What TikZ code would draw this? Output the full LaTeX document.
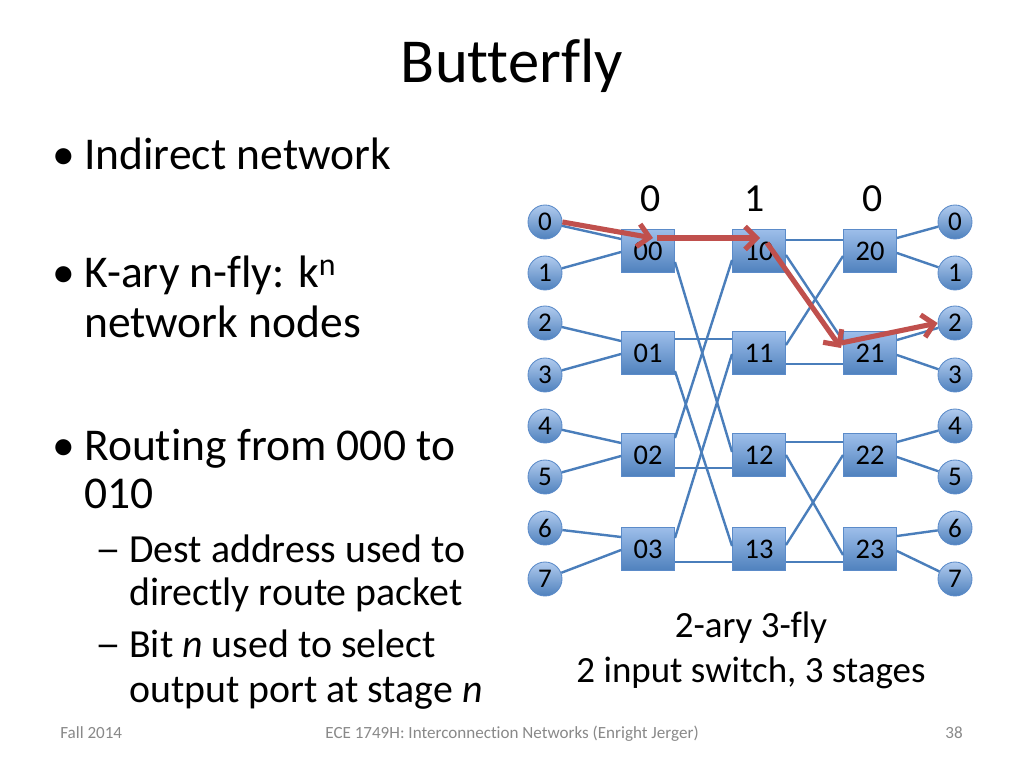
\documentclass[tikz,border=0pt]{standalone}
\usepackage{fontspec}
\setmainfont{Carlito}[Ligatures={NoCommon}]
\usetikzlibrary{arrows.meta,calc}
\definecolor{SwitchTop}{HTML}{9DBEEA}
\definecolor{SwitchBot}{HTML}{4F81BD}
\definecolor{SwitchEdge}{HTML}{5B8BC9}
\definecolor{WireBlue}{HTML}{4A7EBB}
\definecolor{PathRed}{HTML}{C0504D}
\definecolor{FootGray}{HTML}{898989}
\tikzset{>=Stealth,
 switch/.style={draw=SwitchEdge,line width=.6pt,top color=SwitchTop,bottom color=SwitchBot,
  minimum width=37.3pt,minimum height=30.2pt,inner sep=0pt,font=\fontsize{20}{22}\selectfont},
 port/.style={circle,draw=SwitchEdge,line width=.6pt,top color=SwitchTop!80!white,bottom color=SwitchBot,
  minimum size=23.9pt,inner sep=0pt,font=\fontsize{19}{21}\selectfont},
 wire/.style={draw=WireBlue,line width=1.7pt},
 route/.style={draw=PathRed,line width=3.6pt,-{Straight Barb[length=8pt,width=16pt]}},
 bullettext/.style={anchor=base west,inner sep=0pt,font=\fontsize{32}{38}\selectfont},
 subtext/.style={anchor=base west,inner sep=0pt,font=\fontsize{28}{34}\selectfont}}
\begin{document}
\begin{tikzpicture}[x=0.703125pt,y=-0.703125pt]
\useasboundingbox[fill=white] (0,0) rectangle (1024,768);
\node[anchor=base,font=\fontsize{44}{53}\selectfont] (title) at (512,83) {Butterfly};
\foreach \y/\t in {170/Indirect network,288/{K-ary n-fly: k\textsuperscript{n}},338/network nodes,
 460/Routing from 000 to,508/010}
 {\node[bullettext] at (84,\y) {\t};}
\foreach \y in {170,288,460}
 {\node[bullettext] at (52,\y) {•};}
\foreach \y/\t in {562/Dest address used to,605/directly route packet,
 657/{Bit \textit{n} used to select},702/{output port at stage \textit{n}}}
 {\node[subtext] at (129,\y) {\t};}
\foreach \y in {562,657}
 {\node[subtext,xscale=1.3] at (95,\y) {–};}
\foreach \c/\x in {0/648,1/759,2/870}
 \foreach \r/\y in {0/251,1/353,2/455,3/549}
  {\node[switch] (s\c\r) at (\x,\y) {\c\r};}
\foreach \i/\y in {0/222,1/273,2/323,3/375,4/426,5/477,6/528,7/579}
 {\node[port] (in\i) at (545,\y) {\i};
  \node[port] (out\i) at (955,\y) {\i};}
\foreach \x/\b in {651/0,755/1,873/0}
 {\node[anchor=base,font=\fontsize{28}{34}\selectfont] at (\x,212) {\b};}
\foreach \r/\a/\b in {0/0/1,1/2/3,2/4/5,3/6/7}
 {\draw[wire] (in\a) -- ($(s0\r.west)+(0,-12)$);
  \draw[wire] (in\b) -- ($(s0\r.west)+(0,1)$);
  \draw[wire] ($(s2\r.east)+(0,-13)$) -- (out\a);
  \draw[wire] ($(s2\r.east)+(0,2)$) -- (out\b);}
\foreach \a/\b/\p/\q in {00/10/-13/-13,01/11/-14/-14,02/12/13/13,03/13/13/13,
 00/12/11/-3,01/13/18/-3,02/10/-17/9,03/11/-11/1,
 10/20/-11/-11,11/21/11/11,12/22/-13/-13,13/23/13/13,
 10/21/4/-12,11/20/-8/5,12/23/0/6,13/22/-4/0}
 {\draw[wire] ($(s\a.east)+(0,\p)$) -- ($(s\b.west)+(0,\q)$);}
\draw[route] (in0.east) -- ($(s00)+(5,-13)$);
\draw[route] ($(s00)+(9,-13)$) -- ($(s10)+(1,-13)$);
\draw[route] ($(s10)+(8,-8)$) -- ($(s21.west)+(-2,-5)$);
\draw[route] ($(s21.west)+(-2,-10)$) -- (out2.west);
\node[anchor=base,font=\fontsize{26}{31}\selectfont] (cap1) at (751,637) {2-ary 3-fly};
\node[anchor=base,font=\fontsize{26}{31}\selectfont] (cap2) at (751,682) {2 input switch, 3 stages};
\node[anchor=base west,inner sep=0pt,font=\fontsize{12}{14}\selectfont,FootGray] (foot1) at (60,738) {Fall 2014};
\node[anchor=base,font=\fontsize{12}{14}\selectfont,FootGray] (foot2) at (512,738) {ECE 1749H: Interconnection Networks (Enright Jerger)};
\node[anchor=base,font=\fontsize{12}{14}\selectfont,FootGray] (foot3) at (954,738) {38};
\end{tikzpicture}
\end{document}
